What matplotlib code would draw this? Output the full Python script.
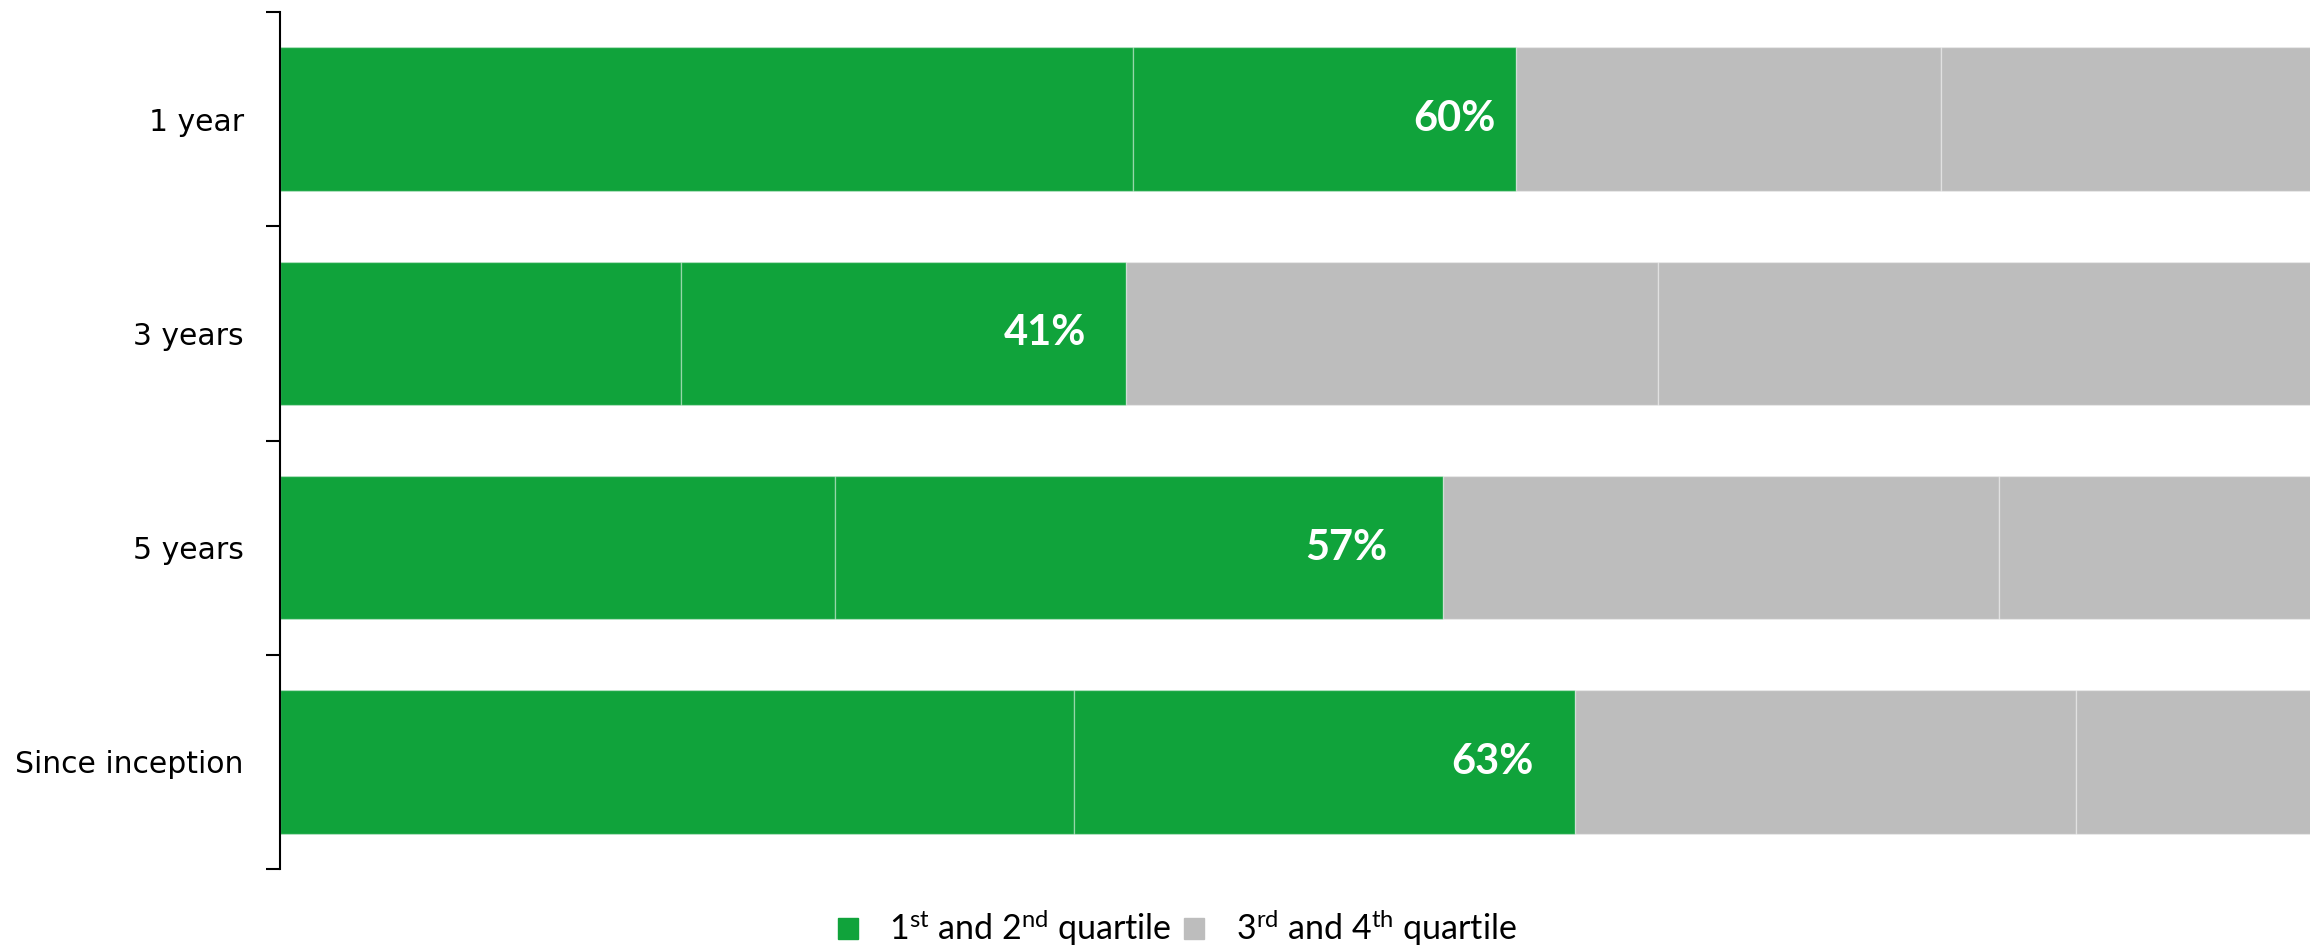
import numpy as np
import matplotlib.pyplot as plt
from matplotlib.patches import Patch

# quartile shares (%) per period
periods = ["1 year", "3 years", "5 years", "Since inception"]
q1 = [41.5, 19.5, 27.0, 38.65]
q2 = [18.65, 21.65, 29.6, 24.35]
q3 = [20.7, 25.9, 27.05, 24.4]
q4 = [19.15, 32.95, 16.35, 12.6]

green = "#10a33b"
grey = "#bdbdbd"

fig = plt.figure(figsize=(23.1, 9.48), dpi=100)
ax = fig.add_axes([0.1212, 0.0833, 0.8896, 0.904])

y = np.arange(len(periods))
left = np.zeros(len(periods))
for vals, col in [(q1, green), (q2, green), (q3, grey), (q4, grey)]:
    ax.barh(y, vals, left=left, height=0.67, color=col,
            edgecolor=(1, 1, 1, 0.35), linewidth=1.0)
    left = left + np.array(vals)

# top-half share written near the end of the green part
top_half = np.array(q1) + np.array(q2)
label_pad = [1.0, 1.9, 2.7, 2.0]
for yi, v, p in zip(y, top_half, label_pad):
    ax.text(v - p, yi, f"{v:.0f}%", ha="right", va="center",
            color="white", fontsize=30, fontweight="bold", family="Lato")

ax.set_xlim(0, 100)
ax.set_ylim(3.5, -0.5)
ax.set_yticks(y)
ax.set_yticklabels(periods, fontsize=21.5, family="DejaVu Sans")
ax.tick_params(axis="y", which="major", length=0, pad=26)
ax.set_yticks(np.arange(-0.5, 4, 1), minor=True)
ax.tick_params(axis="y", which="minor", length=10, width=1.5)
ax.set_xticks([])
for s in ["top", "right", "bottom"]:
    ax.spines[s].set_visible(False)
ax.spines["left"].set_linewidth(1.5)

handles = [Patch(color=green), Patch(color=grey)]
labels = [r"$\mathregular{1^{st}}$ and $\mathregular{2^{nd}}$ quartile",
          r"$\mathregular{3^{rd}}$ and $\mathregular{4^{th}}$ quartile"]
fig.legend(handles, labels, loc="center", bbox_to_anchor=(0.5096, 0.021),
           ncol=2, frameon=False, prop={"family": "Lato", "size": 24.5},
           handlelength=0.6, handleheight=0.6, handletextpad=0.92,
           columnspacing=0.35)

fig.savefig("out.png", dpi=100)
